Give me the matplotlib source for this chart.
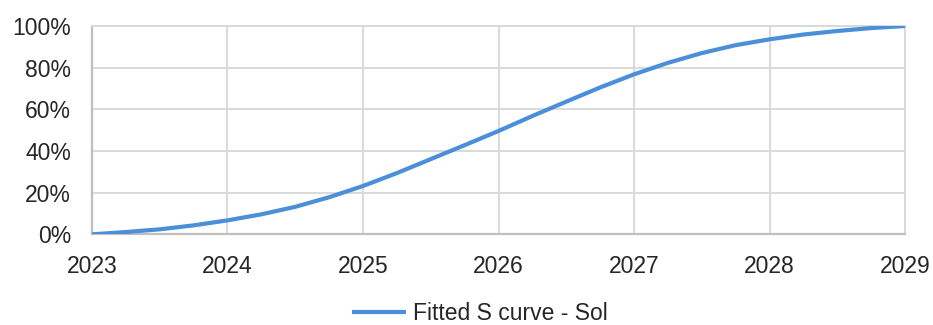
import matplotlib.pyplot as plt
from matplotlib.ticker import PercentFormatter

plt.rcParams['font.family'] = ['Liberation Sans', 'DejaVu Sans']

# fitted adoption curve, quarterly points
years = [2023.0, 2023.25, 2023.5, 2023.75,
         2024.0, 2024.25, 2024.5, 2024.75,
         2025.0, 2025.25, 2025.5, 2025.75,
         2026.0, 2026.25, 2026.5, 2026.75,
         2027.0, 2027.25, 2027.5, 2027.75,
         2028.0, 2028.25, 2028.5, 2028.75,
         2029.0]
share = [0.0, 1.1, 2.4, 4.3,
         6.7, 9.6, 13.2, 17.8,
         23.2, 29.4, 36.1, 42.8,
         49.6, 56.8, 63.7, 70.5,
         76.8, 82.3, 87.0, 90.8,
         93.6, 95.9, 97.6, 99.0,
         100.0]
year_ticks = [2023, 2024, 2025, 2026, 2027, 2028, 2029]
pct_ticks = [0, 20, 40, 60, 80, 100]
label = "Fitted S curve - Sol"

grid_col = "#d9d9d9"
axis_col = "#bfbfbf"
text_col = "#262626"

fig = plt.figure(figsize=(9.33, 3.25), dpi=100)
ax = fig.add_axes([0.0986, 0.279, 0.8714, 0.641])

ax.plot(years, share, color="#4a8fd8", lw=3.0, label=label,
        solid_capstyle="butt", solid_joinstyle="round", zorder=3)

ax.set_xlim(2023, 2029)
ax.set_ylim(0, 100)
ax.set_xticks(year_ticks)
ax.set_yticks(pct_ticks)
ax.yaxis.set_major_formatter(PercentFormatter(decimals=0))

ax.grid(True, color=grid_col, lw=1.4)
ax.set_axisbelow(True)
for side in ["top", "right"]:
    ax.spines[side].set_color(grid_col)
    ax.spines[side].set_linewidth(1.4)
for side in ["left", "bottom"]:
    ax.spines[side].set_color(axis_col)
    ax.spines[side].set_linewidth(1.6)

ax.tick_params(axis="both", length=0, labelsize=16.5, labelcolor=text_col)
ax.tick_params(axis="x", pad=15)
ax.tick_params(axis="y", pad=15)

fig.legend(loc="center", bbox_to_anchor=(0.514, 0.036), frameon=False,
           fontsize=16.5, handlelength=2.35, handletextpad=0.3,
           borderpad=0.2, labelcolor=text_col)

fig.savefig("out.png", dpi=100)
